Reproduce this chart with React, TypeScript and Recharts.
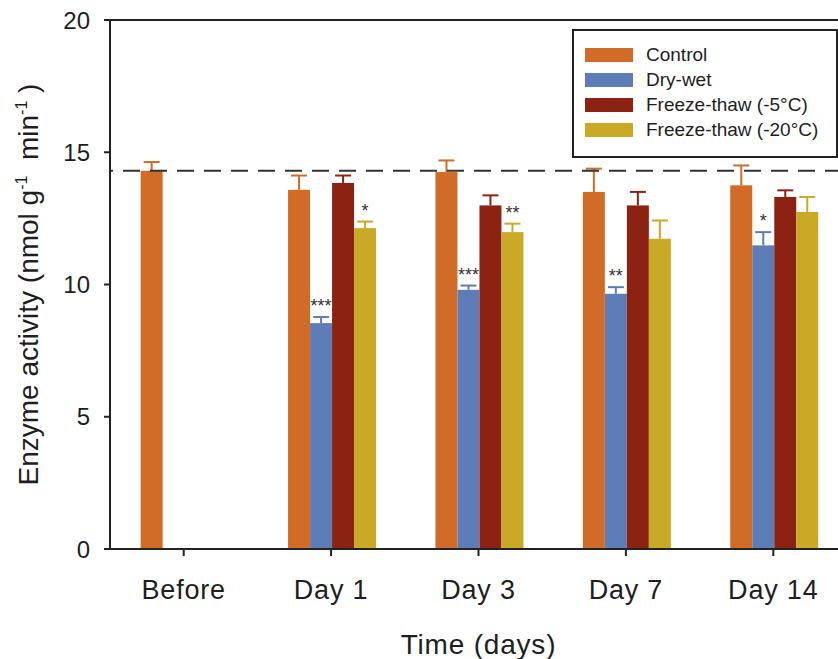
import React from 'react';
import { BarChart, Bar, XAxis, YAxis, ReferenceLine, LabelList, Label } from 'recharts';

const categories = ['Before', 'Day 1', 'Day 3', 'Day 7', 'Day 14'];

const controlValues = [14.3, 13.58, 14.25, 13.5, 13.75];
const controlErrors = [0.33, 0.54, 0.44, 0.88, 0.75];

const dryWetValues = [null, 8.54, 9.8, 9.65, 11.48];
const dryWetErrors = [null, 0.23, 0.16, 0.25, 0.5];
const dryWetStars = ['', '***', '***', '**', '*'];

const ft5Values = [null, 13.84, 12.99, 12.99, 13.31];
const ft5Errors = [null, 0.28, 0.38, 0.51, 0.25];

const ft20Values = [null, 12.13, 11.98, 11.73, 12.74];
const ft20Errors = [null, 0.25, 0.32, 0.69, 0.57];
const ft20Stars = ['', '*', '**', '', ''];

const baselineValue = 14.3;
const yTicks = [0, 5, 10, 15, 20];

const seriesNames = ['Control', 'Dry-wet', 'Freeze-thaw (-5°C)', 'Freeze-thaw (-20°C)'];
const seriesColors = ['#D06C28', '#5E7DB6', '#8C2312', '#C9A925'];

const FONT = '"Liberation Sans", Arial, Helvetica, sans-serif';
const TEXT = '#1e1e1e';

const data = categories.map((name, i) => ({
  name,
  control: controlValues[i],
  controlErr: controlErrors[i],
  dryWet: dryWetValues[i],
  dryWetErr: dryWetErrors[i],
  ft5: ft5Values[i],
  ft5Err: ft5Errors[i],
  ft20: ft20Values[i],
  ft20Err: ft20Errors[i],
}));

const makeShape = (valKey: string, errKey: string, color: string) => (props: any) => {
  const { x, y, width, height, payload } = props;
  const v = payload ? payload[valKey] : null;
  const e = payload ? payload[errKey] : null;
  if (v == null || !height) return null;
  const X = Number(x);
  const Y = Number(y);
  const W = Number(width);
  const H = Number(height);
  const ppu = H / v;
  const cx = X + W / 2;
  const top = e != null ? Y - e * ppu : Y;
  return (
    <g>
      <rect x={X} y={Y} width={W} height={H} fill={color} />
      {e != null && (
        <g stroke={color} strokeWidth={2}>
          <line x1={cx} y1={Y} x2={cx} y2={top} />
          <line x1={cx - 8} y1={top} x2={cx + 8} y2={top} />
        </g>
      )}
    </g>
  );
};

const makeStars = (vals: (number | null)[], errs: (number | null)[], stars: string[]) =>
  (props: any) => {
    const { x, y, width, height, value } = props;
    const idx = categories.indexOf(String(value));
    if (idx < 0) return null;
    const s = stars[idx];
    const v = vals[idx];
    const e = errs[idx];
    if (!s || v == null || e == null || !height) return null;
    const ppu = Number(height) / v;
    const errTop = Number(y) - e * ppu;
    return (
      <text
        x={Number(x) + Number(width) / 2}
        y={errTop - 5}
        textAnchor="middle"
        fontSize={18}
        fill="#333"
        fontFamily={FONT}
      >
        {s}
      </text>
    );
  };

const YTitle = (props: any) => {
  const vb = props.viewBox || {};
  const cx = (vb.x ?? 0) + (vb.width ?? 110) - 72;
  const cy = (vb.y ?? 0) + (vb.height ?? 0) / 2;
  return (
    <text
      transform={`translate(${cx},${cy}) rotate(-90)`}
      textAnchor="middle"
      fontSize={28}
      fontFamily={FONT}
      fill={TEXT}
      style={{ whiteSpace: 'pre' }}
    >
      <tspan>Enzyme activity (nmol g</tspan>
      <tspan dy={-11} fontSize={16}>-1</tspan>
      <tspan dy={11}>  min</tspan>
      <tspan dy={-11} fontSize={16}>-1</tspan>
      <tspan dy={11}> )</tspan>
    </text>
  );
};

const XTitle = (props: any) => {
  const vb = props.viewBox || {};
  const cx = (vb.x ?? 0) + (vb.width ?? 0) / 2;
  const y = (vb.y ?? 0) + 105;
  return (
    <text
      x={cx}
      y={y}
      textAnchor="middle"
      fontSize={28}
      fontFamily={FONT}
      fill={TEXT}
      style={{ letterSpacing: '0.8px' }}
    >
      Time (days)
    </text>
  );
};

const LegendBox = () => (
  <div
    style={{
      position: 'absolute',
      left: 572,
      top: 29,
      width: 266,
      height: 129,
      border: '2px solid #222',
      boxSizing: 'border-box',
      background: '#fff',
      fontFamily: FONT,
    }}
  >
    {seriesNames.map((n, i) => (
      <div
        key={n}
        style={{
          position: 'absolute',
          left: 11,
          top: 17 + i * 25.1,
          height: 14,
          display: 'flex',
          alignItems: 'center',
          whiteSpace: 'nowrap',
        }}
      >
        <div style={{ width: 48, height: 14, background: seriesColors[i] }} />
        <span style={{ marginLeft: 13, fontSize: 19, color: TEXT, lineHeight: '14px' }}>{n}</span>
      </div>
    ))}
  </div>
);

export default function App() {
  return (
    <div
      style={{
        position: 'absolute',
        left: 0,
        top: 0,
        width: 838,
        height: 659,
        overflow: 'hidden',
        background: '#fff',
      }}
    >
      <BarChart
        width={860}
        height={659}
        data={data}
        margin={{ top: 20, right: 13, bottom: 0, left: 0 }}
        barCategoryGap="20.8%"
        barGap={0}
      >
        <XAxis
          dataKey="name"
          height={110}
          tickSize={7}
          tickMargin={24}
          axisLine={{ stroke: '#222', strokeWidth: 2 }}
          tickLine={{ stroke: '#222', strokeWidth: 2 }}
          tick={{ fontSize: 27, fill: TEXT, fontFamily: FONT, style: { letterSpacing: '0.8px' } } as any}
        >
          <Label content={<XTitle />} />
        </XAxis>
        <YAxis
          width={110}
          domain={[0, 20]}
          ticks={yTicks}
          interval={0}
          tickSize={6}
          tickMargin={14}
          axisLine={{ stroke: '#222', strokeWidth: 2 }}
          tickLine={{ stroke: '#222', strokeWidth: 2 }}
          tick={{ fontSize: 24, fill: TEXT, fontFamily: FONT }}
        >
          <Label content={<YTitle />} />
        </YAxis>
        <ReferenceLine y={20} stroke="#222" strokeWidth={2} />
        <Bar
          dataKey="control"
          fill={seriesColors[0]}
          isAnimationActive={false}
          shape={makeShape('control', 'controlErr', seriesColors[0])}
        />
        <Bar
          dataKey="dryWet"
          fill={seriesColors[1]}
          isAnimationActive={false}
          shape={makeShape('dryWet', 'dryWetErr', seriesColors[1])}
        >
          <LabelList dataKey="name" content={makeStars(dryWetValues, dryWetErrors, dryWetStars)} />
        </Bar>
        <Bar
          dataKey="ft5"
          fill={seriesColors[2]}
          isAnimationActive={false}
          shape={makeShape('ft5', 'ft5Err', seriesColors[2])}
        />
        <Bar
          dataKey="ft20"
          fill={seriesColors[3]}
          isAnimationActive={false}
          shape={makeShape('ft20', 'ft20Err', seriesColors[3])}
        >
          <LabelList dataKey="name" content={makeStars(ft20Values, ft20Errors, ft20Stars)} />
        </Bar>
        <ReferenceLine
          y={baselineValue}
          stroke="#333"
          strokeWidth={2}
          strokeDasharray="17 10"
          strokeDashoffset={14}
        />
      </BarChart>
      <LegendBox />
    </div>
  );
}
